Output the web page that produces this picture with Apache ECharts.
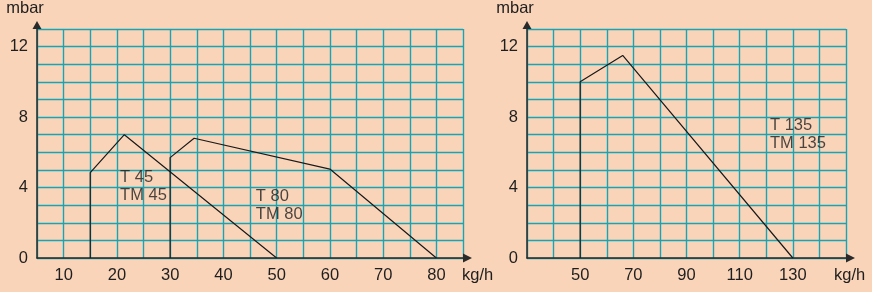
<!DOCTYPE html>
<html>
<head>
<meta charset="utf-8">
<script src="https://cdn.jsdelivr.net/npm/echarts@6/dist/echarts.min.js"></script>
<style>
  html, body { margin: 0; padding: 0; background: #f9d4b9; }
  #chart { width: 872px; height: 292px; }
</style>
</head>
<body>
<div id="chart"></div>
<script>
// curves, [kg/h, mbar]
const t45 = [[15, 0], [15, 4.85], [21.4, 7.0], [50, 0]];
const t80 = [[30, 0], [30, 5.7], [34.5, 6.8], [60, 5.05], [80, 0]];
const t135 = [[50, 0], [50, 10], [66, 11.5], [130, 0]];

// annotation anchors (left edge, vertical middle of the two lines)
const labelT45 = [20.6, 4.05];
const labelT80 = [46.1, 3.0];
const labelT135 = [121.4, 7.0];

const yTicks = [0, 4, 8, 12];
const leftXTicks = [10, 20, 30, 40, 50, 60, 70, 80];
const rightXTicks = [50, 70, 90, 110, 130];

const gridColor = '#1aa3b2';
const ink = '#1e1e1e';
const font = 'Liberation Sans';
const fs = 16.5;

function yAxis(gridIndex) {
  return {
    type: 'value', gridIndex: gridIndex, min: 0, max: 13, interval: 1,
    name: 'mbar', nameLocation: 'end', nameGap: 12,
    nameTextStyle: { color: ink, fontSize: fs, fontFamily: font, align: 'center', padding: [0, 24, 0, 0] },
    axisLine: { show: true, lineStyle: { color: '#2a2a2a', width: 1.5 }, symbol: ['none', 'triangle'], symbolSize: [9, 8], symbolOffset: [0, 4] },
    axisTick: { show: false },
    axisLabel: { color: ink, fontSize: fs, fontFamily: font, margin: 9,
      formatter: v => yTicks.includes(v) ? String(v) : '' },
    splitLine: { show: true, lineStyle: { color: gridColor, width: 1.4 } }
  };
}

function xAxis(gridIndex, min, max, step, ticks, gap) {
  return {
    type: 'value', gridIndex: gridIndex, min: min, max: max, interval: step,
    name: 'kg/h', nameLocation: 'end', nameGap: gap,
    nameTextStyle: { color: ink, fontSize: fs, fontFamily: font, align: 'left', verticalAlign: 'top', padding: [9, 0, 0, 0] },
    axisLine: { show: true, lineStyle: { color: '#2a2a2a', width: 1.5 }, symbol: ['none', 'triangle'], symbolSize: [9, 9], symbolOffset: [0, 4.5] },
    axisTick: { show: false },
    axisLabel: { color: ink, fontSize: fs, fontFamily: font, margin: 9,
      formatter: v => ticks.includes(v) ? String(v) : '' },
    splitLine: { show: true, lineStyle: { color: gridColor, width: 1.4 } }
  };
}

function curve(data, idx) {
  return {
    type: 'line', xAxisIndex: idx, yAxisIndex: idx, data: data,
    symbol: 'none', silent: true,
    lineStyle: { color: '#1a1a1a', width: 1.2 }
  };
}

function note(pos, text, idx) {
  return {
    type: 'scatter', xAxisIndex: idx, yAxisIndex: idx, data: [pos],
    symbolSize: 0, silent: true,
    label: { show: true, position: 'right', distance: 0, formatter: text,
      color: ink, fontSize: fs, fontFamily: font, lineHeight: 18, align: 'left', verticalAlign: 'middle' }
  };
}

const chart = echarts.init(document.getElementById('chart'));
chart.setOption({
  backgroundColor: '#f9d4b9',
  animation: false,
  grid: [
    { left: 37, top: 26, width: 426, height: 232 },
    { left: 527, top: 26, width: 319, height: 232 }
  ],
  xAxis: [
    xAxis(0, 5, 85, 5, leftXTicks, -1),
    xAxis(1, 30, 150, 10, rightXTicks, -12)
  ],
  yAxis: [yAxis(0), yAxis(1)],
  series: [
    curve(t45, 0),
    curve(t80, 0),
    curve(t135, 1),
    note(labelT45, 'T 45\nTM 45', 0),
    note(labelT80, 'T 80\nTM 80', 0),
    note(labelT135, 'T 135\nTM 135', 1)
  ]
});
</script>
</body>
</html>
